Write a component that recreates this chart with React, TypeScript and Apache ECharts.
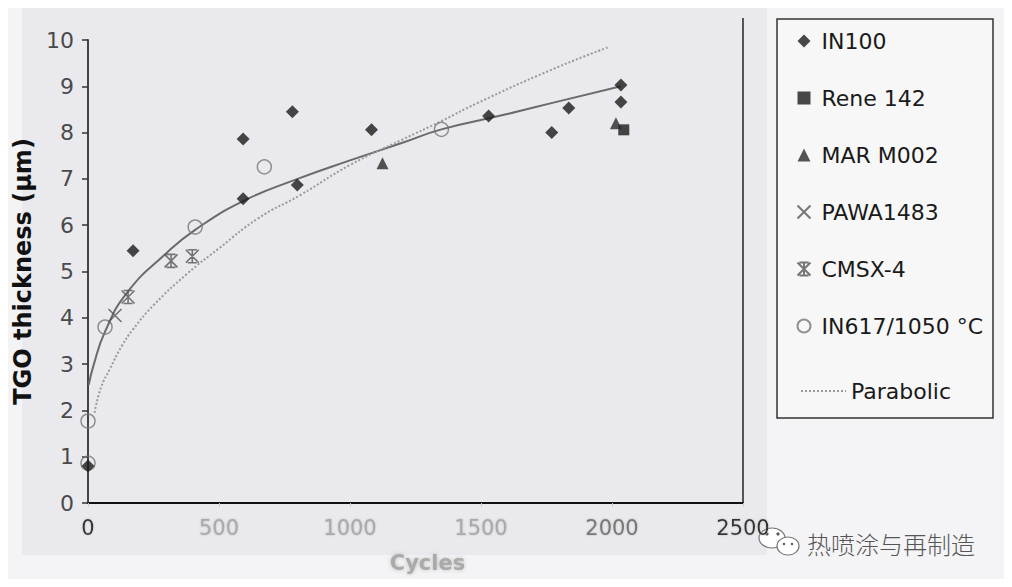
import React, { useEffect, useRef } from "react";
import * as echarts from "echarts";

// ---- data (cycles, TGO thickness µm) ----
const in100: number[][] = [
  [0, 0.8], [172, 5.45], [592, 7.86], [592, 6.57], [780, 8.45], [799, 6.87],
  [1082, 8.06], [1529, 8.36], [1770, 8.0], [1835, 8.53], [2034, 9.03], [2034, 8.66],
];
const rene142: number[][] = [[2045, 8.06]];
const marM002: number[][] = [[1124, 7.34], [2015, 8.2]];
const pawa1483: number[][] = [[103, 4.05]];
const cmsx4: number[][] = [[153, 4.45], [317, 5.23], [398, 5.33]];
const in617: number[][] = [[0, 1.77], [0, 0.86], [65, 3.8], [409, 5.96], [673, 7.26], [1349, 8.07]];
const fitCurve: number[][] = [
  [3, 2.55], [20, 2.95], [65, 3.7], [150, 4.55], [300, 5.4], [409, 5.9], [592, 6.52],
  [800, 7.0], [1000, 7.4], [1200, 7.78], [1349, 8.07], [1600, 8.4], [1800, 8.68], [2034, 9.0],
];
const parabolic: number[][] = [
  [25, 1.95], [50, 2.5], [84, 2.9], [130, 3.4], [172, 3.75], [250, 4.27], [378, 4.95],
  [500, 5.5], [650, 6.15], [810, 6.65], [1000, 7.3], [1200, 7.85], [1349, 8.25],
  [1487, 8.64], [1766, 9.35], [1988, 9.85],
];
const xTicks = [0, 500, 1000, 1500, 2000, 2500];
const yTicks = [0, 1, 2, 3, 4, 5, 6, 7, 8, 9, 10];

const FONT = "'DejaVu Sans', Verdana, sans-serif";
const X_PATH = "path://M0,0L10,10M10,0L0,10";
const AST_PATH = "path://M0,0L10,10M10,0L0,10M5,0L5,10M1.5,0L8.5,0M1.5,10L8.5,10";

export default function App() {
  const ref = useRef<HTMLDivElement>(null);
  useEffect(() => {
    if (!ref.current) return;
    const chart = echarts.init(ref.current, undefined, { renderer: "svg" });
    const option: any = {
      animation: false,
      backgroundColor: "#f4f4f6",
      textStyle: { fontFamily: FONT },
      grid: { left: 88, top: 40, width: 655, height: 463, containLabel: false },
      graphic: [
        { type: "rect", z: -10, silent: true, shape: { x: 22, y: 0, width: 745, height: 555 }, style: { fill: "#eaeaee" } },
        { type: "line", shape: { x1: 743, y1: 18, x2: 743, y2: 503 }, style: { stroke: "#555", lineWidth: 2 } },
        { type: "rect", z: -5, shape: { x: 777, y: 19, width: 216, height: 399 }, style: { fill: "#f7f7f7", stroke: "#333", lineWidth: 1.5 } },
        { type: "ellipse", shape: { cx: 772, cy: 538, rx: 13, ry: 10 }, style: { fill: "#fff", stroke: "#777", lineWidth: 1.2 } },
        { type: "ellipse", shape: { cx: 788, cy: 546, rx: 11, ry: 9 }, style: { fill: "#fff", stroke: "#777", lineWidth: 1.2 } },
        { type: "circle", shape: { cx: 767, cy: 534, r: 1.6 }, style: { fill: "#555" } },
        { type: "circle", shape: { cx: 778, cy: 534, r: 1.6 }, style: { fill: "#555" } },
        { type: "circle", shape: { cx: 784, cy: 544, r: 1.3 }, style: { fill: "#666" } },
        { type: "circle", shape: { cx: 792, cy: 544, r: 1.3 }, style: { fill: "#666" } },
        {
          type: "text", x: 807, y: 543,
          style: { text: "热喷涂与再制造", font: "300 24px 'Noto Sans CJK SC', sans-serif", fill: "#555", textVerticalAlign: "middle" },
        },
      ],
      legend: [
        {
          left: 790, top: 24, orient: "vertical", itemWidth: 13, itemHeight: 13, itemGap: 33,
          textStyle: { fontSize: 22, color: "#1a1a1a", fontFamily: FONT, lineHeight: 24, padding: [0, 0, 0, 6] },
          data: [
            { name: "IN100", icon: "diamond" },
            { name: "Rene 142", icon: "rect" },
            { name: "MAR M002", icon: "triangle" },
            { name: "PAWA1483", icon: X_PATH },
            { name: "CMSX-4", icon: AST_PATH },
            { name: "IN617/1050 °C", icon: "circle" },
          ],
        },
        {
          left: 795, top: 374, itemWidth: 45, itemHeight: 14,
          itemStyle: { opacity: 0 },
          lineStyle: { opacity: 1 },
          textStyle: { fontSize: 22, color: "#1a1a1a", fontFamily: FONT, lineHeight: 24, padding: [0, 0, 0, 0] },
          data: ["Parabolic"],
        },
      ],
      xAxis: {
        type: "value", min: xTicks[0], max: xTicks[xTicks.length - 1], interval: 500,
        name: "Cycles", nameLocation: "middle", nameGap: 49,
        nameTextStyle: { fontSize: 21, fontWeight: "bold", color: "#aaa", fontFamily: FONT, textShadowColor: "#bbb", textShadowBlur: 4, padding: [0, 0, 0, 24] },
        axisLine: { show: true, lineStyle: { color: "#111", width: 2 } },
        axisTick: { show: true, length: 4, lineStyle: { color: "#ccc" } },
        splitLine: { show: false },
        axisLabel: {
          fontSize: 21, margin: 14, fontFamily: FONT,
          formatter: (v: number) => String(v),
          color: (v: any) => (Number(v) === 0 || Number(v) === 2500 ? "#333" : Number(v) === 2000 ? "#777" : "#aaa"),
          textShadowColor: "#bbb", textShadowBlur: 2,
        },
      },
      yAxis: {
        type: "value", min: yTicks[0], max: yTicks[yTicks.length - 1], interval: 1,
        name: "TGO thickness (μm)", nameLocation: "middle", nameGap: 47,
        nameTextStyle: { fontSize: 24, fontWeight: "bold", color: "#111", fontFamily: FONT },
        axisLine: { show: true, lineStyle: { color: "#444", width: 2 } },
        axisTick: { show: true, length: 6, lineStyle: { color: "#333", width: 1.5 } },
        splitLine: { show: false },
        axisLabel: { fontSize: 22, color: "#4a4a4a", margin: 14, fontFamily: FONT },
      },
      series: [
        {
          name: "fit", type: "line", data: fitCurve, smooth: true, showSymbol: false, symbol: "none",
          lineStyle: { color: "#6a6a6a", width: 2 }, z: 2, silent: true,
        },
        {
          name: "Parabolic", type: "line", data: parabolic, smooth: 0.5, showSymbol: false, symbol: "none",
          lineStyle: { color: "#999", width: 2, type: "dotted" }, itemStyle: { color: "#999" }, z: 2,
        },
        {
          name: "IN617/1050 °C", type: "scatter", data: in617, symbol: "circle", symbolSize: 14,
          itemStyle: { color: "rgba(0,0,0,0)", borderColor: "#777", borderWidth: 1.5 }, z: 3,
        },
        {
          name: "IN100", type: "scatter", data: in100, symbol: "diamond", symbolSize: 13,
          itemStyle: { color: "#1a1a1a" }, z: 4,
        },
        {
          name: "Rene 142", type: "scatter", data: rene142, symbol: "rect", symbolSize: 11,
          itemStyle: { color: "#1a1a1a" }, z: 4,
        },
        {
          name: "MAR M002", type: "scatter", data: marM002, symbol: "triangle", symbolSize: 12,
          itemStyle: { color: "#2a2a2a" }, z: 4,
        },
        {
          name: "PAWA1483", type: "scatter", data: pawa1483, symbol: X_PATH, symbolSize: 13,
          itemStyle: { color: "none", borderColor: "#555", borderWidth: 1.6 }, z: 4,
        },
        {
          name: "CMSX-4", type: "scatter", data: cmsx4, symbol: AST_PATH, symbolSize: 13,
          itemStyle: { color: "none", borderColor: "#555", borderWidth: 1.6 }, z: 4,
        },
      ],
    };
    chart.setOption(option);
    return () => chart.dispose();
  }, []);
  return <div ref={ref} style={{ width: 1012, height: 587, margin: -8 }} />;
}
